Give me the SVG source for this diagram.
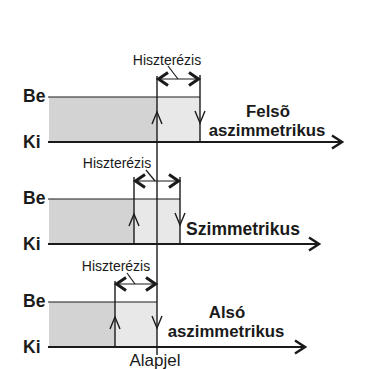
<svg xmlns="http://www.w3.org/2000/svg" width="370" height="369" viewBox="0 0 370 369">
<style>
.lbl{font-family:"Liberation Sans",Arial,sans-serif;font-weight:bold;font-size:17.5px;fill:#1a1a1a}
.two{font-size:16.8px}
.hys{font-family:"Liberation Sans",Arial,sans-serif;font-size:14px;fill:#1a1a1a}
.dark{fill:#d3d3d3}
.light{fill:#e8e8e8}
.thin{stroke:#1a1a1a;stroke-width:1.2;fill:none}
.axis{stroke:#1a1a1a;stroke-width:2;fill:none}
.vert{stroke:#1a1a1a;stroke-width:1.4;fill:none}
.chev{stroke:#1a1a1a;stroke-width:1.4;fill:none}
.hchev{stroke:#1a1a1a;stroke-width:3;fill:none}
.achev{stroke:#1a1a1a;stroke-width:2.5;fill:none}
</style>
<rect width="370" height="369" fill="#ffffff"/>

<g id="upper">
  <rect class="dark" x="49" y="97" width="108" height="45"/>
  <rect class="light" x="157" y="97" width="43" height="45"/>
  <text class="lbl" x="23" y="102">Be</text>
  <text class="lbl" x="23" y="148">Ki</text>
  <line class="thin" x1="48" y1="97" x2="200" y2="97"/>
  <line class="vert" x1="200" y1="75" x2="200" y2="142"/>
  <text class="hys" x="167" y="65" text-anchor="middle">Hiszterézis</text>
  <line class="thin" x1="168" y1="66" x2="178" y2="79"/>
  <line class="thin" x1="157" y1="79" x2="200" y2="79"/>
  <polyline class="hchev" points="168,72.5 158.5,79 168,85.5"/>
  <polyline class="hchev" points="189,72.5 198.5,79 189,85.5"/>
  <polyline class="chev" points="152,124 157,112 162,124"/>
  <polyline class="chev" points="195,111 200,123 205,111"/>
  <text class="lbl two" x="268" y="116.5" text-anchor="middle">Felsõ</text>
  <text class="lbl two" x="267" y="136" text-anchor="middle">aszimmetrikus</text>
</g>

<g id="middle">
  <rect class="dark" x="49" y="199" width="85" height="45"/>
  <rect class="light" x="134" y="199" width="46" height="45"/>
  <text class="lbl" x="23" y="204">Be</text>
  <text class="lbl" x="23" y="250">Ki</text>
  <line class="thin" x1="48" y1="199" x2="180" y2="199"/>
  <line class="vert" x1="134" y1="177" x2="134" y2="244"/>
  <line class="vert" x1="180" y1="177" x2="180" y2="244"/>
  <text class="hys" x="117" y="168" text-anchor="middle">Hiszterézis</text>
  <line class="thin" x1="146" y1="170" x2="155" y2="181"/>
  <line class="thin" x1="134" y1="181" x2="180" y2="181"/>
  <polyline class="hchev" points="145,174.5 135.5,181 145,187.5"/>
  <polyline class="hchev" points="169,174.5 178.5,181 169,187.5"/>
  <polyline class="chev" points="129,226 134,214 139,226"/>
  <polyline class="chev" points="175,213 180,225 185,213"/>
  <text class="lbl" x="243" y="235" text-anchor="middle">Szimmetrikus</text>
</g>

<g id="lower">
  <rect class="dark" x="49" y="302" width="66" height="45"/>
  <rect class="light" x="115" y="302" width="42" height="45"/>
  <text class="lbl" x="23" y="307">Be</text>
  <text class="lbl" x="23" y="353">Ki</text>
  <line class="thin" x1="48" y1="302" x2="157" y2="302"/>
  <line class="vert" x1="115" y1="281" x2="115" y2="347"/>
  <text class="hys" x="116" y="271" text-anchor="middle">Hiszterézis</text>
  <line class="thin" x1="127" y1="273" x2="135" y2="284"/>
  <line class="thin" x1="115" y1="284" x2="157" y2="284"/>
  <polyline class="hchev" points="126,277.5 116.5,284 126,290.5"/>
  <polyline class="hchev" points="146,277.5 155.5,284 146,290.5"/>
  <polyline class="chev" points="110,329 115,317 120,329"/>
  <polyline class="chev" points="152,316 157,328 162,316"/>
  <text class="lbl two" x="227" y="317.5" text-anchor="middle">Alsó</text>
  <text class="lbl two" x="226" y="337" text-anchor="middle">aszimmetrikus</text>
  <text class="hys" x="155" y="366" text-anchor="middle" style="font-size:17px">Alapjel</text>
</g>

<g id="connectors">
  <line class="vert" x1="157" y1="76" x2="157" y2="355"/>
  <line class="axis" x1="48" y1="142" x2="342" y2="142"/>
  <polyline class="achev" points="332,135.5 342,142 332,148.5"/>
  <line class="axis" x1="48" y1="244" x2="319" y2="244"/>
  <polyline class="achev" points="309,237.5 319,244 309,250.5"/>
  <line class="axis" x1="48" y1="347" x2="305" y2="347"/>
  <polyline class="achev" points="295,340.5 305,347 295,353.5"/>
</g>
</svg>
